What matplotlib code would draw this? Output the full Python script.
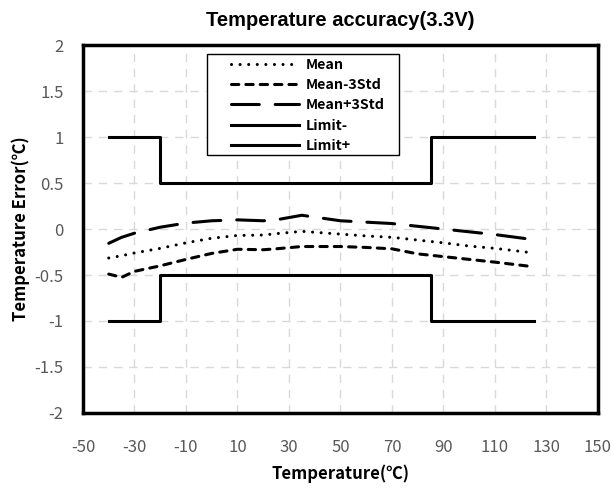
import matplotlib
matplotlib.use('Agg')
import matplotlib.pyplot as plt
from matplotlib.patches import Rectangle

temps = [-40, -35, -30, -20, -10, 0, 10, 20, 25, 35, 50, 60, 70, 80, 90, 100, 110, 125]
mean = [-0.315, -0.29, -0.26, -0.21, -0.15, -0.10, -0.07, -0.065, -0.05, -0.025,
        -0.055, -0.075, -0.09, -0.12, -0.15, -0.185, -0.21, -0.26]
mean_m3std = [-0.49, -0.525, -0.46, -0.40, -0.33, -0.265, -0.22, -0.225, -0.215, -0.19,
              -0.19, -0.20, -0.215, -0.27, -0.30, -0.33, -0.36, -0.41]
mean_p3std = [-0.155, -0.09, -0.045, 0.02, 0.065, 0.09, 0.10, 0.09, 0.10, 0.15,
              0.09, 0.075, 0.06, 0.03, 0.0, -0.03, -0.06, -0.115]

limit_t = [-40, -20, -20, 85, 85, 125]
limit_lo = [-1, -1, -0.5, -0.5, -1, -1]
limit_hi = [1, 1, 0.5, 0.5, 1, 1]

x_ticks = list(range(-50, 151, 20))
y_ticks = [-2, -1.5, -1, -0.5, 0, 0.5, 1, 1.5, 2]
y_tick_labels = ['-2', '-1.5', '-1', '-0.5', '0', '0.5', '1', '1.5', '2']

cjk = ['Noto Sans CJK SC', 'DejaVu Sans']
plt.rcParams['font.family'] = cjk
plt.rcParams['axes.unicode_minus'] = False

fig = plt.figure(figsize=(6.12, 4.91), dpi=100)
ax = fig.add_axes([0.1356, 0.159, 0.8414, 0.749])

lw = 2.2
ax.plot(temps, mean, color='black', lw=lw, linestyle=(0, (0.01, 2.8)),
        dash_capstyle='round', label='Mean')
ax.plot(temps, mean_m3std, color='black', lw=lw, linestyle=(0, (2.4, 2.3)),
        dash_capstyle='round', label='Mean-3Std')
ax.plot(temps, mean_p3std, color='black', lw=lw, linestyle=(0, (9.1, 5.2)),
        dash_capstyle='round', label='Mean+3Std')
ax.plot(limit_t, limit_lo, color='black', lw=lw, label='Limit-')
ax.plot(limit_t, limit_hi, color='black', lw=lw, label='Limit+')

ax.set_xlim(-50, 150)
ax.set_ylim(-2, 2)
ax.set_xticks(x_ticks)
ax.set_yticks(y_ticks)
ax.set_yticklabels(y_tick_labels)
ax.tick_params(length=0, labelsize=12, labelcolor='#595959')
ax.tick_params(axis='x', pad=19)
ax.tick_params(axis='y', pad=14)
ax.grid(True, color='#d9d9d9', linestyle=(0, (6, 5)), lw=1)
ax.set_axisbelow(True)
for s in ax.spines.values():
    s.set_linewidth(2.5)
    s.set_color('black')

ax.set_xlabel('Temperature(℃)', fontweight='bold', fontsize=12, labelpad=6)
ax.set_ylabel('Temperature Error(℃)', fontweight='bold', fontsize=12, labelpad=3)
ax.set_title('Temperature accuracy(3.3V)', family='Liberation Sans',
             fontweight='bold', fontsize=14.5, pad=14)

# legend box drawn separately (wide left margin like the original)
ax.add_patch(Rectangle((0.2414, 0.701), 0.3728, 0.2745, transform=ax.transAxes,
                       facecolor='white', edgecolor='black', lw=1, zorder=5))
leg = ax.legend(loc='upper left', bbox_to_anchor=(0.2868, 0.966), frameon=False,
                prop={'family': cjk, 'weight': 'bold', 'size': 10.3},
                handlelength=4.8, handletextpad=0.47, labelspacing=0.44,
                borderpad=0, borderaxespad=0)
leg.set_zorder(6)

fig.savefig('out.png', dpi=100)
